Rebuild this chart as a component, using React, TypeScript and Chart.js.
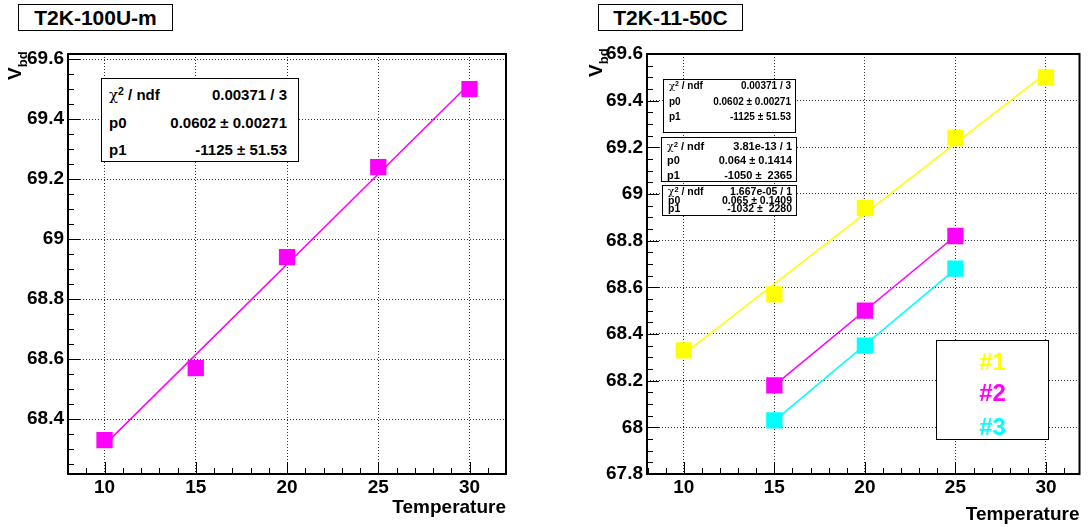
import React, { useEffect, useRef } from 'react';
import { Chart, registerables } from 'chart.js';

Chart.register(...registerables);

// ---------- data ----------
const temps = [10, 15, 20, 25, 30];
const vbd100U = [68.33, 68.57, 68.94, 69.24, 69.5];

const temps11_1 = [10, 15, 20, 25, 30];
const vbd11_1 = [68.33, 68.57, 68.94, 69.24, 69.5];
const temps11_23 = [15, 20, 25];
const vbd11_2 = [68.18, 68.5, 68.82];
const vbd11_3 = [68.03, 68.35, 68.68];

// fitted straight lines (end points)
const fitX1 = [10, 30];
const fitY1 = [68.314, 69.518];
const fitX23 = [15, 25];
const fitY2 = [68.18, 68.82];
const fitY3 = [68.028, 68.678];

const xTickLabels = [10, 15, 20, 25, 30];
const yTicksLeft = [68.4, 68.6, 68.8, 69, 69.2, 69.4, 69.6];
const yTicksRight = [67.8, 68, 68.2, 68.4, 68.6, 68.8, 69, 69.2, 69.4, 69.6];

const MAGENTA = '#ff00ff';
const YELLOW = '#ffff00';
const CYAN = '#00ffff';
const FONT = 'Liberation Sans, Arial, Helvetica, sans-serif';

const pts = (xs: number[], ys: number[]) => xs.map((x, i) => ({ x, y: ys[i] }));

const markerSet = (xs: number[], ys: number[], color: string) => ({
  data: pts(xs, ys),
  showLine: false,
  pointStyle: 'rect',
  pointRadius: 11.5,
  pointHoverRadius: 11.5,
  pointBackgroundColor: color,
  pointBorderColor: color,
  pointBorderWidth: 0,
  backgroundColor: color,
  borderColor: color,
  order: 0,
});

const fitSet = (xs: number[], ys: number[], color: string) => ({
  data: pts(xs, ys),
  showLine: true,
  borderColor: color,
  borderWidth: 1.5,
  pointRadius: 0,
  pointHoverRadius: 0,
  order: 1,
});

// ROOT-like frame and inner tick marks (major + minor)
const rootFrame = {
  id: 'rootFrame',
  afterDraw(chart: any) {
    const { ctx, chartArea, scales } = chart;
    const { left, right, top, bottom } = chartArea;
    const x = scales.x;
    const y = scales.y;
    ctx.save();
    ctx.strokeStyle = '#000';
    ctx.lineWidth = 1;
    ctx.setLineDash([]);
    ctx.beginPath();
    for (let i = Math.ceil(x.min); i <= Math.floor(x.max); i++) {
      const px = Math.round(x.getPixelForValue(i)) + 0.5;
      const len = i % 5 === 0 ? 12 : 6;
      ctx.moveTo(px, bottom);
      ctx.lineTo(px, bottom - len);
    }
    const k0 = Math.ceil(y.min / 0.05 - 1e-6);
    const k1 = Math.floor(y.max / 0.05 + 1e-6);
    for (let k = k0; k <= k1; k++) {
      const py = Math.round(y.getPixelForValue(k * 0.05)) + 0.5;
      const len = k % 4 === 0 ? 12 : 6;
      ctx.moveTo(left, py);
      ctx.lineTo(left + len, py);
    }
    ctx.stroke();
    ctx.lineWidth = 2;
    ctx.strokeRect(left, top, right - left, bottom - top);
    ctx.restore();
  },
};

type Cfg = {
  datasets: any[];
  xMin: number;
  xMax: number;
  yMin: number;
  yMax: number;
  yTicks: number[];
  yWidth: number;
  padRight: number;
  titlePadBottom: number;
};

function RootChart({ cfg, width, height }: { cfg: Cfg; width: number; height: number }) {
  const ref = useRef<HTMLCanvasElement | null>(null);
  useEffect(() => {
    if (!ref.current) return;
    const tickFont = { family: FONT, size: 19, weight: 'bold' as const };
    const chart = new Chart(ref.current, {
      type: 'scatter',
      data: { datasets: cfg.datasets },
      options: {
        responsive: false,
        animation: false,
        events: [],
        layout: { padding: { left: 0, top: 54, right: cfg.padRight, bottom: 0 } },
        plugins: { legend: { display: false }, tooltip: { enabled: false } },
        scales: {
          x: {
            type: 'linear',
            min: cfg.xMin,
            max: cfg.xMax,
            afterBuildTicks: (s: any) => {
              s.ticks = xTickLabels.map((v) => ({ value: v }));
            },
            afterFit: (s: any) => {
              s.height = 53;
            },
            grid: { color: '#333', lineWidth: 1, drawTicks: false },
            border: { display: false, dash: [1, 2] },
            ticks: {
              autoSkip: false,
              maxRotation: 0,
              padding: 2,
              color: '#000',
              font: tickFont,
              callback: (v: any) => String(v),
            },
            title: {
              display: true,
              text: 'Temperature',
              align: 'end',
              color: '#000',
              font: { family: FONT, size: 19, weight: 'bold' },
              padding: { top: 0, bottom: cfg.titlePadBottom },
            },
          },
          y: {
            type: 'linear',
            min: cfg.yMin,
            max: cfg.yMax,
            afterBuildTicks: (s: any) => {
              s.ticks = cfg.yTicks.map((v) => ({ value: v }));
            },
            afterFit: (s: any) => {
              s.width = cfg.yWidth;
            },
            grid: { color: '#333', lineWidth: 1, drawTicks: false },
            border: { display: false, dash: [1, 2] },
            ticks: {
              autoSkip: false,
              padding: 4,
              color: '#000',
              font: tickFont,
              callback: (v: any) => String(Math.round(Number(v) * 10) / 10),
            },
          },
        },
      },
      plugins: [rootFrame],
    } as any);
    return () => chart.destroy();
  }, []);
  return <canvas ref={ref} width={width} height={height} style={{ display: 'block', width, height }} />;
}

const leftCfg: Cfg = {
  datasets: [fitSet(fitX1, fitY1, MAGENTA), markerSet(temps, vbd100U, MAGENTA)],
  xMin: 8.0,
  xMax: 32.0,
  yMin: 68.217,
  yMax: 69.617,
  yTicks: yTicksLeft,
  yWidth: 68,
  padRight: 39,
  titlePadBottom: 8,
};

const rightCfg: Cfg = {
  datasets: [
    fitSet(fitX1, fitY1, YELLOW),
    fitSet(fitX23, fitY2, MAGENTA),
    fitSet(fitX23, fitY3, CYAN),
    markerSet(temps11_1, vbd11_1, YELLOW),
    markerSet(temps11_23, vbd11_2, MAGENTA),
    markerSet(temps11_23, vbd11_3, CYAN),
  ],
  xMin: 7.97,
  xMax: 31.85,
  yMin: 67.8,
  yMax: 69.6,
  yTicks: yTicksRight,
  yWidth: 102,
  padRight: 8,
  titlePadBottom: 1,
};

const abs = (l: number, t: number, w?: number, h?: number): React.CSSProperties => ({
  position: 'absolute',
  left: l,
  top: t,
  width: w,
  height: h,
  boxSizing: 'border-box',
});

function TitleBox({ l, t, w, text }: { l: number; t: number; w: number; text: string }) {
  return (
    <div
      style={{
        ...abs(l, t, w, 27),
        border: '1px solid #000',
        background: '#fff',
        font: `bold 21px ${FONT}`,
        lineHeight: '25px',
        textAlign: 'center',
        color: '#000',
      }}
    >
      {text}
    </div>
  );
}

function Chi() {
  return (
    <span>
      <span style={{ fontFamily: 'DejaVu Serif, serif', fontWeight: 'normal' }}>χ</span>
      <span style={{ fontSize: '0.7em', position: 'relative', top: '-0.45em' }}>2</span> / ndf
    </span>
  );
}

type StatRow = { label: string; value: string };
function StatBox({
  l, t, w, h, font, rows, rowCenters, padL, padR,
}: {
  l: number; t: number; w: number; h: number; font: number; rows: StatRow[]; rowCenters: number[]; padL: number; padR: number;
}) {
  return (
    <div style={{ ...abs(l, t, w, h), border: '1px solid #000', background: '#fff', color: '#000', font: `bold ${font}px ${FONT}` }}>
      {rows.map((r, i) => (
        <div
          key={i}
          style={{
            position: 'absolute',
            left: padL,
            right: padR,
            top: rowCenters[i] - t - 1 - 10,
            height: 20,
            lineHeight: '20px',
            display: 'flex',
            justifyContent: 'space-between',
            whiteSpace: 'nowrap',
          }}
        >
          <span>{r.label === 'chi' ? <Chi /> : r.label}</span>
          <span style={{ whiteSpace: 'pre' }}>{r.value}</span>
        </div>
      ))}
    </div>
  );
}

function YTitle({ l, t }: { l: number; t: number }) {
  return (
    <div
      style={{
        position: 'absolute',
        left: l,
        top: t,
        transformOrigin: '0 0',
        transform: 'rotate(-90deg)',
        font: `bold 19px ${FONT}`,
        lineHeight: '22px',
        whiteSpace: 'nowrap',
        color: '#000',
      }}
    >
      V<span style={{ fontSize: 13, position: 'relative', top: 6 }}>bd</span>
    </div>
  );
}

const legendLabels = ['#1', '#2', '#3'];
const legendColors = [YELLOW, MAGENTA, CYAN];
const legendCenters = [362, 393, 427];

export default function App() {
  return (
    <div style={{ position: 'absolute', left: 0, top: 0, width: 1091, height: 527, background: '#fff', overflow: 'hidden' }}>
      <div style={abs(0, 0, 545, 527)}>
        <RootChart cfg={leftCfg} width={545} height={527} />
      </div>
      <div style={abs(545, 0, 546, 527)}>
        <RootChart cfg={rightCfg} width={546} height={527} />
      </div>

      <TitleBox l={18} t={4} w={155} text="T2K-100U-m" />
      <TitleBox l={598} t={4} w={145} text="T2K-11-50C" />

      <YTitle l={4} t={80} />
      <YTitle l={585} t={77} />

      <StatBox
        l={101} t={78} w={198} h={84} font={15} padL={7} padR={11}
        rowCenters={[95, 123, 150]}
        rows={[
          { label: 'chi', value: '0.00371 / 3' },
          { label: 'p0', value: '0.0602 ± 0.00271' },
          { label: 'p1', value: '-1125 ± 51.53' },
        ]}
      />
      <StatBox
        l={663} t={79} w={133} h={54} font={10} padL={5} padR={4}
        rowCenters={[86, 102, 117]}
        rows={[
          { label: 'chi', value: '0.00371 / 3' },
          { label: 'p0', value: '0.0602 ± 0.00271' },
          { label: 'p1', value: '-1125 ± 51.53' },
        ]}
      />
      <StatBox
        l={661} t={137} w={136} h={45} font={11} padL={5} padR={4}
        rowCenters={[146, 160, 175]}
        rows={[
          { label: 'chi', value: '3.81e-13 / 1' },
          { label: 'p0', value: '0.064 ± 0.1414' },
          { label: 'p1', value: '-1050 ±  2365' },
        ]}
      />
      <StatBox
        l={662} t={185} w={135} h={31} font={10.5} padL={5} padR={4}
        rowCenters={[191, 200, 208]}
        rows={[
          { label: 'chi', value: '1.667e-05 / 1' },
          { label: 'p0', value: '0.065 ± 0.1409' },
          { label: 'p1', value: '-1032 ±  2280' },
        ]}
      />

      <div style={{ ...abs(936, 340, 113, 100), border: '1px solid #000', background: '#fff' }}>
        {legendLabels.map((lab, i) => (
          <div
            key={lab}
            style={{
              position: 'absolute',
              left: 0,
              right: 0,
              top: legendCenters[i] - 340 - 1 - 14,
              height: 28,
              lineHeight: '28px',
              textAlign: 'center',
              color: legendColors[i],
              font: `bold 24px ${FONT}`,
            }}
          >
            {lab}
          </div>
        ))}
      </div>
    </div>
  );
}
